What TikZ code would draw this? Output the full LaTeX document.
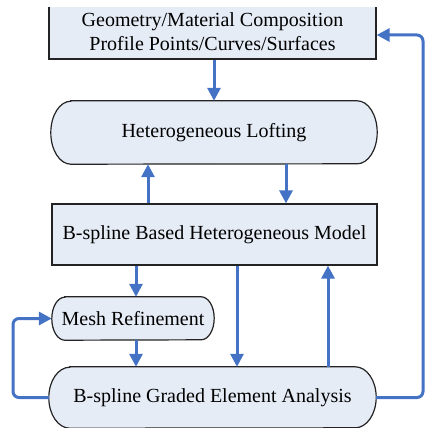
\documentclass[tikz,border=0pt]{standalone}
\usepackage{fontspec}
\setmainfont{Liberation Serif}
\usetikzlibrary{arrows.meta}
\pgfdeclarelayer{background}
\pgfsetlayers{background,main}
\definecolor{arrblue}{RGB}{68,114,196}
\definecolor{boxfill}{RGB}{230,236,246}
\definecolor{boxline}{RGB}{35,35,35}
\newcommand\termoutline[3]{%
  \begin{pgfonlayer}{background}
  \draw[outline] ([xshift=#2]#1.north west) -- ([xshift=-#2]#1.north east)
    arc[start angle=90,end angle=-90,x radius=#2,y radius=#3]
    -- ([xshift=#2]#1.south west)
    arc[start angle=270,end angle=90,x radius=#2,y radius=#3] -- cycle;
  \end{pgfonlayer}}
\begin{document}
\begin{tikzpicture}[x=1pt,y=-1pt,
  txt/.style={inner sep=0pt, align=center, font=\fontsize{20}{24}\selectfont},
  box/.style={txt, draw=boxline, line width=1.2pt, fill=boxfill},
  term/.style={txt},
  outline/.style={draw=boxline, line width=1.2pt, fill=boxfill},
  arr/.style={draw=arrblue, line width=3pt, -{Triangle[length=13pt,width=13pt]}},
  loopline/.style={arr, rounded corners=6pt}]
\useasboundingbox (0,0) rectangle (425,428);
\clip (0,7.8) rectangle (425,428);
\node[box, minimum width=327pt, minimum height=54pt] (top) at (212.5,32) {Geometry/Material Composition\\Profile Points/Curves/Surfaces};
\node[term, minimum width=326pt, minimum height=63pt] (loft) at (214,132.5) {Heterogeneous Lofting};
\termoutline{loft}{20pt}{31.5pt}
\node[box, minimum width=325pt, minimum height=61pt] (model) at (214.5,234.5) {B-spline Based Heterogeneous Model};
\node[term, minimum width=162pt, minimum height=43pt] (mesh) at (133,318.5) {Mesh Refinement};
\termoutline{mesh}{13pt}{21.5pt}
\node[term, minimum width=327pt, minimum height=61pt] (graded) at (212.5,397.5) {B-spline Graded Element Analysis};
\termoutline{graded}{21pt}{30.5pt}
\coordinate (xa) at (214,0);
\coordinate (xb) at (148,0);
\coordinate (xc) at (286,0);
\coordinate (xd) at (136,0);
\coordinate (xe) at (237,0);
\coordinate (xf) at (328,0);
\coordinate (l1) at (13,397.5);
\coordinate (l2) at (13,318.5);
\coordinate (r1) at (423,397.5);
\coordinate (r2) at (423,35);
\draw[arr] (top.south -| xa) -- (loft.north -| xa);
\draw[arr] (model.north -| xb) -- (loft.south -| xb);
\draw[arr] (loft.south -| xc) -- (model.north -| xc);
\draw[arr] (model.south -| xd) -- (mesh.north -| xd);
\draw[arr] (mesh.south -| xd) -- (graded.north -| xd);
\draw[arr] (model.south -| xe) -- (graded.north -| xe);
\draw[arr] (graded.north -| xf) -- (model.south -| xf);
\draw[loopline] (graded.west) -- (l1) -- (l2) -- (mesh.west);
\draw[loopline] (graded.east) -- (r1) -- (r2) -- (top.east |- r2);
\end{tikzpicture}
\end{document}
